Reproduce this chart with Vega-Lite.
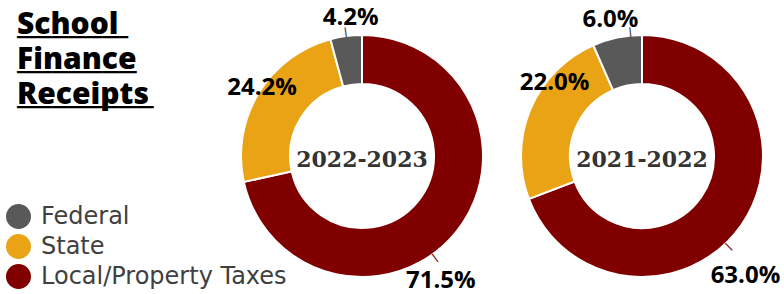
{
  "$schema": "https://vega.github.io/schema/vega-lite/v6.json",
  "padding": {"left": 6, "top": 6, "right": 0, "bottom": 0},
  "background": "white",
  "spacing": 38,
  "bounds": "flush",
  "config": {"view": {"stroke": null}},
  "data": {"values": [
    {"year": "2022-2023", "source": "Local/Property Taxes", "share": 0.715, "rank": 1},
    {"year": "2022-2023", "source": "State", "share": 0.242, "rank": 2},
    {"year": "2022-2023", "source": "Federal", "share": 0.042, "rank": 3},
    {"year": "2021-2022", "source": "Local/Property Taxes", "share": 0.630, "rank": 1},
    {"year": "2021-2022", "source": "State", "share": 0.220, "rank": 2},
    {"year": "2021-2022", "source": "Federal", "share": 0.060, "rank": 3}
  ]},
  "hconcat": [
    {
      "width": 197, "height": 276,
      "data": {"values": [{"line": "School "}, {"line": "Finance"}, {"line": "Receipts"}]},
      "encoding": {
        "x": {"datum": 0, "type": "quantitative", "scale": {"domain": [0, 1]}, "axis": null},
        "y": {"field": "line", "type": "ordinal", "sort": null, "scale": {"type": "point", "range": [16, 86], "padding": 0}, "axis": null}
      },
      "layer": [
        {"mark": {"type": "text", "align": "left", "baseline": "alphabetic", "dx": 11, "font": "Open Sans", "fontSize": 30, "fontWeight": 800, "color": "#000000"},
         "encoding": {"text": {"field": "line"}}},
        {"mark": {"type": "text", "align": "left", "baseline": "alphabetic", "dx": 11, "dy": 8, "font": "DejaVu Sans", "fontSize": 14.2, "color": "#000000"},
         "encoding": {"text": {"condition": [
            {"test": "datum.line === 'School '", "value": "━━━━━━━━━━━━━"},
            {"test": "datum.line === 'Finance'", "value": "━━━━━━━━━━━━━━"}
          ], "value": "━━━━━━━━━━━━━━━━"}}}
      ]
    },
    {
      "width": 242, "height": 276,
      "transform": [{"filter": "datum.year === '2022-2023'"}],
      "encoding": {
        "theta": {"field": "share", "type": "quantitative", "stack": true},
        "order": {"field": "rank", "type": "quantitative"}
      },
      "layer": [
        {"mark": {"type": "arc", "innerRadius": 72, "outerRadius": 121, "stroke": "white", "strokeWidth": 2},
         "encoding": {"color": {"field": "source", "type": "nominal",
           "scale": {"domain": ["Federal", "State", "Local/Property Taxes"], "range": ["#595959", "#E9A315", "#800000"]},
           "legend": {"title": null, "orient": "none", "legendX": 0, "legendY": 186, "padding": 0, "symbolType": "circle", "symbolSize": 625, "symbolStrokeWidth": 0, "symbolOpacity": 1, "labelFont": "DejaVu Sans", "labelFontSize": 24, "labelColor": "#404040", "labelOffset": 10, "labelLimit": 400, "rowPadding": 5}}}},
        {"mark": {"type": "text", "radius": 125, "angle": 352, "font": "DejaVu Sans", "fontSize": 10, "fontWeight": "bold", "color": "#404040", "baseline": "middle"},
         "encoding": {"text": {"condition": {"test": "datum.source === 'Federal'", "value": "|"}, "value": ""}}},
        {"mark": {"type": "text", "radius": 125, "angle": 144, "dx": 33.5, "dy": -5.3, "font": "DejaVu Sans", "fontSize": 10, "fontWeight": "bold", "color": "#800000", "baseline": "middle"},
         "encoding": {"text": {"condition": {"test": "datum.source === 'Local/Property Taxes'", "value": "|"}, "value": ""}}},
        {"mark": {"type": "text", "radius": 139, "dx": 7, "dy": 0, "font": "Open Sans", "fontSize": 24, "fontWeight": "bold", "color": "#000000", "baseline": "middle"},
         "encoding": {"text": {"condition": {"test": "datum.source === 'Federal'", "field": "share", "type": "quantitative", "format": ".1%"}, "value": ""}}},
        {"mark": {"type": "text", "radius": 131, "dx": 12, "dy": 0, "font": "Open Sans", "fontSize": 24, "fontWeight": "bold", "color": "#000000", "baseline": "middle"},
         "encoding": {"text": {"condition": {"test": "datum.source === 'State'", "field": "share", "type": "quantitative", "format": ".1%"}, "value": ""}}},
        {"mark": {"type": "text", "radius": 150, "dx": -38, "dy": 31, "font": "Open Sans", "fontSize": 24, "fontWeight": "bold", "color": "#000000", "baseline": "middle"},
         "encoding": {"text": {"condition": {"test": "datum.source === 'Local/Property Taxes'", "field": "share", "type": "quantitative", "format": ".1%"}, "value": ""}}},
        {"transform": [{"aggregate": [], "groupby": ["year"]}],
         "mark": {"type": "text", "font": "DejaVu Serif", "fontSize": 22, "fontWeight": "bold", "color": "#333333", "baseline": "middle", "dy": 4},
         "encoding": {"theta": null, "order": null, "text": {"field": "year"}}}
      ]
    },
    {
      "width": 242, "height": 276,
      "transform": [{"filter": "datum.year === '2021-2022'"}],
      "encoding": {
        "theta": {"field": "share", "type": "quantitative", "stack": true},
        "order": {"field": "rank", "type": "quantitative"}
      },
      "layer": [
        {"mark": {"type": "arc", "innerRadius": 72, "outerRadius": 121, "stroke": "white", "strokeWidth": 2},
         "encoding": {"color": {"field": "source", "type": "nominal",
           "scale": {"domain": ["Federal", "State", "Local/Property Taxes"], "range": ["#595959", "#E9A315", "#800000"]},
           "legend": {"title": null, "orient": "none", "legendX": 0, "legendY": 186, "padding": 0, "symbolType": "circle", "symbolSize": 625, "symbolStrokeWidth": 0, "symbolOpacity": 1, "labelFont": "DejaVu Sans", "labelFontSize": 24, "labelColor": "#404040", "labelOffset": 10, "labelLimit": 400, "rowPadding": 5}}}},
        {"mark": {"type": "text", "radius": 125, "angle": 354, "dx": 14, "dy": -0.5, "font": "DejaVu Sans", "fontSize": 10, "fontWeight": "bold", "color": "#404040", "baseline": "middle"},
         "encoding": {"text": {"condition": {"test": "datum.source === 'Federal'", "value": "|"}, "value": ""}}},
        {"mark": {"type": "text", "radius": 125, "angle": 136, "dx": 25.4, "dy": -3.3, "font": "DejaVu Sans", "fontSize": 10, "fontWeight": "bold", "color": "#800000", "baseline": "middle"},
         "encoding": {"text": {"condition": {"test": "datum.source === 'Local/Property Taxes'", "value": "|"}, "value": ""}}},
        {"mark": {"type": "text", "radius": 139, "dx": -3, "dy": 0, "font": "Open Sans", "fontSize": 24, "fontWeight": "bold", "color": "#000000", "baseline": "middle"},
         "encoding": {"text": {"condition": {"test": "datum.source === 'Federal'", "field": "share", "type": "quantitative", "format": ".1%"}, "value": ""}}},
        {"mark": {"type": "text", "radius": 110, "dx": 14, "dy": -30, "font": "Open Sans", "fontSize": 24, "fontWeight": "bold", "color": "#000000", "baseline": "middle"},
         "encoding": {"text": {"condition": {"test": "datum.source === 'State'", "field": "share", "type": "quantitative", "format": ".1%"}, "value": ""}}},
        {"mark": {"type": "text", "radius": 150, "dx": -20, "dy": 35, "font": "Open Sans", "fontSize": 24, "fontWeight": "bold", "color": "#000000", "baseline": "middle"},
         "encoding": {"text": {"condition": {"test": "datum.source === 'Local/Property Taxes'", "field": "share", "type": "quantitative", "format": ".1%"}, "value": ""}}},
        {"transform": [{"aggregate": [], "groupby": ["year"]}],
         "mark": {"type": "text", "font": "DejaVu Serif", "fontSize": 22, "fontWeight": "bold", "color": "#333333", "baseline": "middle", "dy": 4},
         "encoding": {"theta": null, "order": null, "text": {"field": "year"}}}
      ]
    }
  ],
  "resolve": {"scale": {"theta": "independent", "color": "shared", "x": "independent", "y": "independent"}, "legend": {"color": "shared"}}
}
